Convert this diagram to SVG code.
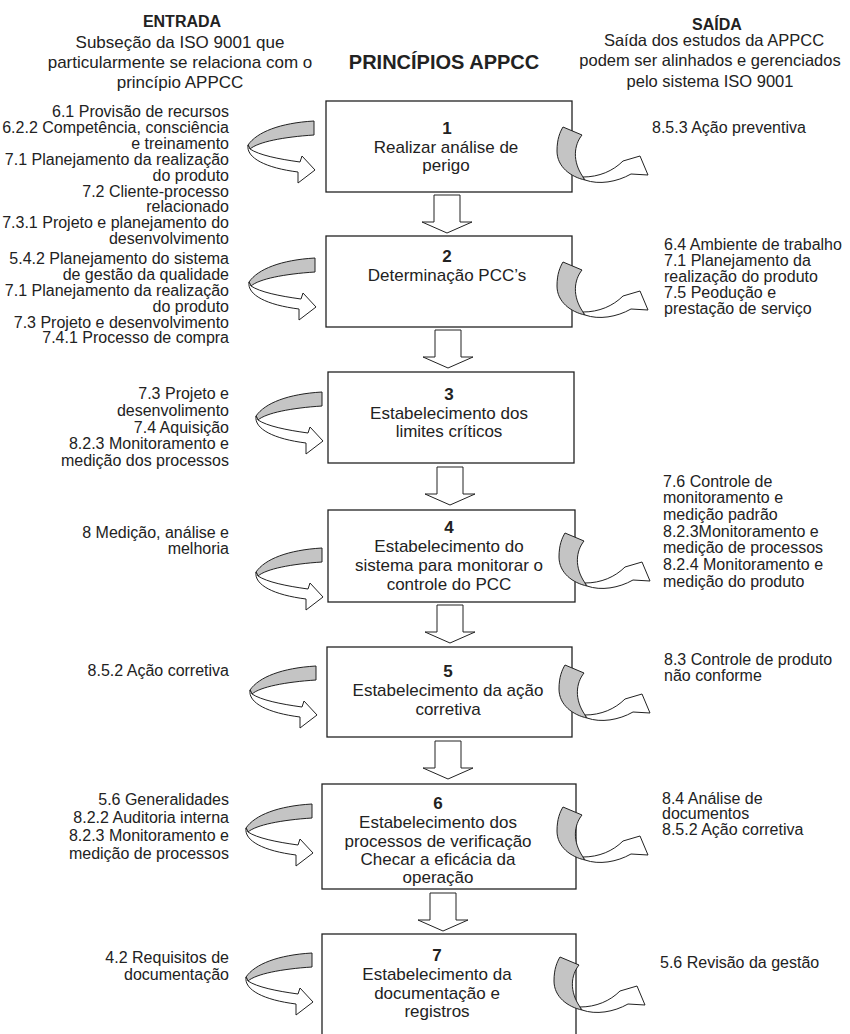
<svg xmlns="http://www.w3.org/2000/svg" xmlns:xlink="http://www.w3.org/1999/xlink" width="850" height="1034" viewBox="0 0 850 1034">
<style>
text{font-family:"Liberation Sans",Arial,sans-serif;fill:#222}
.h{font-size:17px;text-anchor:middle}
.hb{font-size:16px;font-weight:bold;text-anchor:middle}
.t{font-size:20px;font-weight:bold;text-anchor:middle}
.l{font-size:16px;text-anchor:end}
.r{font-size:16px;text-anchor:start}
.b{font-size:17px;text-anchor:middle}
.bn{font-size:17px;font-weight:bold;text-anchor:middle}
.box{fill:#fff;stroke:#222;stroke-width:1.3}
.gray{fill:#c4c4c4;stroke:#222;stroke-width:1}
.white{fill:#fff;stroke:#222;stroke-width:1}
</style>
<defs>
<g id="larrow">
<path class="gray" d="M0,0 C-34,2 -57,11 -66,24 L-64,28 C-56,21 -31,16 0,14 Z"/>
<path class="white" d="M-66,24 C-68,37 -48,47 -16,51 L-16,62 L1,49 L-12,35 L-14,41 C-36,38 -55,34 -64,28 Z"/>
</g>
<g id="rarrow">
<path class="gray" d="M0,0 L19,8 C11,18 9,34 20,50 L22,53 C8,50 -6,40 -6,24 C-6,12 -3,5 0,0 Z"/>
<path class="white" d="M20,50 L22,53 C36,58 54,55 68,47 L85,48 L77,29 L60,34 C50,44 36,50 20,50 Z"/>
</g>
<path id="darrow" class="white" d="M-13,0 L13,0 L13,27 L25,27 L0,38 L-25,27 L-13,27 Z"/>
</defs>

<g id="header">
<text class="hb" x="182" y="27">ENTRADA</text>
<text class="h" x="180" y="48">Subseção da ISO 9001 que</text>
<text class="h" x="180" y="68">particularmente se relaciona com o</text>
<text class="h" x="180" y="88">princípio APPCC</text>
<text class="t" x="444" y="69">PRINCÍPIOS APPCC</text>
<text class="hb" x="717" y="30">SAÍDA</text>
<text class="h" x="714" y="46" style="font-size:16.5px">Saída dos estudos da APPCC</text>
<text class="h" x="710" y="66" style="font-size:16.5px">podem ser alinhados e gerenciados</text>
<text class="h" x="710" y="87" style="font-size:16.5px">pelo sistema ISO 9001</text>
</g>

<g id="node1">
<rect class="box" x="326" y="101" width="246" height="91"/>
<text class="bn" x="447" y="134">1</text>
<text class="b" x="446" y="153">Realizar análise de</text>
<text class="b" x="446" y="171">perigo</text>
</g>
<g id="node2">
<rect class="box" x="326" y="236" width="246" height="91"/>
<text class="bn" x="447" y="262">2</text>
<text class="b" x="447" y="281">Determinação PCC’s</text>
</g>
<g id="node3">
<rect class="box" x="328" y="372" width="246" height="91"/>
<text class="bn" x="449" y="400">3</text>
<text class="b" x="449" y="419">Estabelecimento dos</text>
<text class="b" x="449" y="437">limites críticos</text>
</g>
<g id="node4">
<rect class="box" x="328" y="510" width="247" height="92"/>
<text class="bn" x="449" y="533">4</text>
<text class="b" x="449" y="552">Estabelecimento do</text>
<text class="b" x="449" y="571">sistema para monitorar o</text>
<text class="b" x="449" y="590">controle do PCC</text>
</g>
<g id="node5">
<rect class="box" x="327" y="647" width="245" height="90"/>
<text class="bn" x="448" y="677">5</text>
<text class="b" x="448" y="696">Estabelecimento da ação</text>
<text class="b" x="448" y="715">corretiva</text>
</g>
<g id="node6">
<rect class="box" x="322" y="784" width="254" height="105"/>
<text class="bn" x="438" y="809">6</text>
<text class="b" x="438" y="828">Estabelecimento dos</text>
<text class="b" x="438" y="847">processos de verificação</text>
<text class="b" x="438" y="865">Checar a eficácia da</text>
<text class="b" x="438" y="883">operação</text>
</g>
<g id="node7">
<rect class="box" x="322" y="934" width="254" height="120"/>
<text class="bn" x="437" y="961">7</text>
<text class="b" x="437" y="980">Estabelecimento da</text>
<text class="b" x="437" y="999">documentação e</text>
<text class="b" x="437" y="1017">registros</text>
</g>

<g id="connectors">
<use xlink:href="#darrow" x="447" y="195"/>
<use xlink:href="#darrow" x="448" y="330"/>
<use xlink:href="#darrow" x="450" y="467"/>
<use xlink:href="#darrow" x="450" y="605"/>
<use xlink:href="#darrow" x="448" y="741"/>
<use xlink:href="#darrow" x="443" y="893"/>
<use xlink:href="#larrow" x="314" y="121"/>
<use xlink:href="#larrow" x="315" y="258"/>
<use xlink:href="#larrow" x="322" y="392"/>
<use xlink:href="#larrow" x="322" y="548"/>
<use xlink:href="#larrow" x="316" y="666"/>
<use xlink:href="#larrow" x="312" y="804"/>
<use xlink:href="#larrow" x="312" y="953"/>
<use xlink:href="#rarrow" x="563" y="127"/>
<use xlink:href="#rarrow" x="563" y="262"/>
<use xlink:href="#rarrow" x="565" y="533"/>
<use xlink:href="#rarrow" x="565" y="665"/>
<use xlink:href="#rarrow" x="563" y="807"/>
<use xlink:href="#rarrow" x="560" y="957"/>
</g>

<g id="inputs">
<text class="l" x="229" y="117">6.1 Provisão de recursos</text>
<text class="l" x="229" y="133">6.2.2 Competência, consciência</text>
<text class="l" x="229" y="149">e treinamento</text>
<text class="l" x="229" y="165">7.1 Planejamento da realização</text>
<text class="l" x="229" y="181">do produto</text>
<text class="l" x="229" y="197">7.2 Cliente-processo</text>
<text class="l" x="229" y="212">relacionado</text>
<text class="l" x="229" y="228">7.3.1 Projeto e planejamento do</text>
<text class="l" x="229" y="244">desenvolvimento</text>
<text class="l" x="229" y="264">5.4.2 Planejamento do sistema</text>
<text class="l" x="229" y="280">de gestão da qualidade</text>
<text class="l" x="229" y="296">7.1 Planejamento da realização</text>
<text class="l" x="229" y="312">do produto</text>
<text class="l" x="229" y="328">7.3 Projeto e desenvolvimento</text>
<text class="l" x="229" y="343">7.4.1 Processo de compra</text>
<text class="l" x="229" y="399">7.3 Projeto e</text>
<text class="l" x="229" y="416">desenvolimento</text>
<text class="l" x="229" y="433">7.4 Aquisição</text>
<text class="l" x="229" y="449">8.2.3 Monitoramento e</text>
<text class="l" x="229" y="466">medição dos processos</text>
<text class="l" x="229" y="538">8 Medição, análise e</text>
<text class="l" x="229" y="554">melhoria</text>
<text class="l" x="229" y="676">8.5.2 Ação corretiva</text>
<text class="l" x="229" y="805">5.6 Generalidades</text>
<text class="l" x="229" y="823">8.2.2 Auditoria interna</text>
<text class="l" x="229" y="841">8.2.3 Monitoramento e</text>
<text class="l" x="229" y="859">medição de processos</text>
<text class="l" x="229" y="963">4.2 Requisitos de</text>
<text class="l" x="229" y="980">documentação</text>
</g>

<g id="outputs">
<text class="r" x="652" y="133">8.5.3 Ação preventiva</text>
<text class="r" x="664" y="250">6.4 Ambiente de trabalho</text>
<text class="r" x="664" y="266">7.1 Planejamento da</text>
<text class="r" x="664" y="282">realização do produto</text>
<text class="r" x="664" y="298">7.5 Peodução e</text>
<text class="r" x="664" y="314">prestação de serviço</text>
<text class="r" x="663" y="487">7.6 Controle de</text>
<text class="r" x="663" y="503">monitoramento e</text>
<text class="r" x="663" y="520">medição padrão</text>
<text class="r" x="663" y="537">8.2.3Monitoramento e</text>
<text class="r" x="663" y="553">medição de processos</text>
<text class="r" x="663" y="570">8.2.4 Monitoramento e</text>
<text class="r" x="663" y="587">medição do produto</text>
<text class="r" x="664" y="665">8.3 Controle de produto</text>
<text class="r" x="664" y="681">não conforme</text>
<text class="r" x="662" y="804">8.4 Análise de</text>
<text class="r" x="662" y="819">documentos</text>
<text class="r" x="662" y="835">8.5.2 Ação corretiva</text>
<text class="r" x="660" y="968">5.6 Revisão da gestão</text>
</g>
</svg>
